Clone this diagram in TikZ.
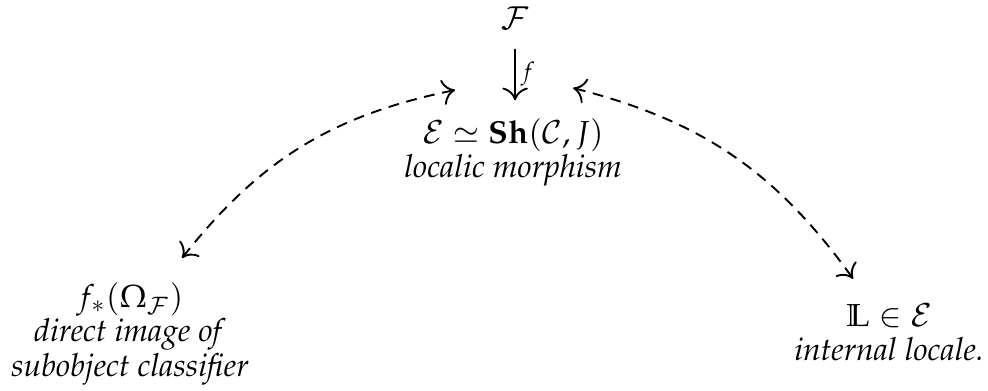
\documentclass[tikz,border=0pt]{standalone}
\usepackage[T1]{fontenc}
\usepackage{amssymb}
\usepackage{mathpazo}
\usetikzlibrary{arrows.meta}
\tikzset{
  obj/.style={align=center, font=\fontsize{10}{10.7}\selectfont},
  link/.style={<->, dashed, dash pattern=on 3.4pt off 2.4pt},
}
\begin{document}
\begin{tikzpicture}[line width=0.6pt, >={To[length=4pt,width=8pt]}]
  \useasboundingbox (0,0) rectangle (10.92,4.311);
  \node (F) at (5.693,4.112) {$\mathcal{F}$};
  \node[obj] (E) at (5.671,2.630) {$\mathcal{E}\simeq\mathbf{Sh}(\mathcal{C},J)$\\ \emph{localic morphism}};
  \node[obj] (Om) at (1.437,0.620) {$f_*(\Omega_{\mathcal{F}})$\\ \emph{direct image of}\\ \emph{subobject classifier}};
  \node[obj] (L) at (9.827,0.640) {$\mathbb{L}\in\mathcal{E}$\\ \emph{internal locale.}};
  \draw[->, shorten <=2.5pt, shorten >=2pt] (F) -- node[right, inner sep=1.5pt] {$\scriptstyle f$} (F |- E.north);
  % ends of the dashed links
  \coordinate (a1) at (2.012,1.459);
  \coordinate (a2) at (5.030,3.316);
  \coordinate (b1) at (6.334,3.338);
  \coordinate (b2) at (9.429,1.230);
  \draw[link] (a1) to[bend left=20] (a2);
  \draw[link] (b1) to[bend left=20] (b2);
\end{tikzpicture}
\end{document}
